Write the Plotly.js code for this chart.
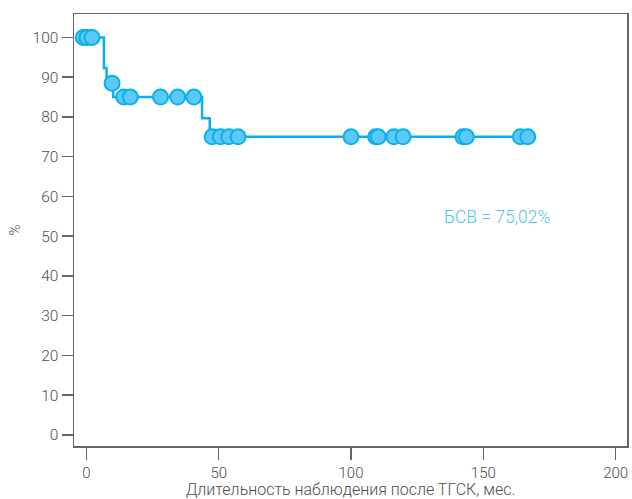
<!DOCTYPE html>
<html>
<head>
<meta charset="utf-8">
<script src="https://cdn.plot.ly/plotly-3.0.1.min.js"></script>
<style>html,body{margin:0;padding:0;background:#fff;}#chart{width:632px;height:499px;}</style>
</head>
<body>
<div id="chart"></div>
<script>
// Kaplan–Meier step curve (time, % survival)
const stepTimes = [0, 6.6, 7.6, 10.1, 43.7, 46.6, 167];
const stepSurv  = [100, 92.3, 88.5, 85, 79.7, 75, 75];
// Censored observations (time, % survival)
const censorTimes = [-1.2, 0.2, 2.1, 9.7, 14.1, 16.6, 28.0, 34.5, 40.6,
  47.5, 50.6, 53.8, 57.3, 100.0, 109.3, 110.3, 116.2, 119.7, 142.3, 143.6, 164.0, 166.8];
const censorSurv  = [100, 100, 100, 88.5, 85, 85, 85, 85, 85,
  75, 75, 75, 75, 75, 75, 75, 75, 75, 75, 75, 75, 75];
const xTicks = [0, 50, 100, 150, 200];
const yTicks = [0, 10, 20, 30, 40, 50, 60, 70, 80, 90, 100];
const annotationText = 'БСВ = 75,02%';

const lineColor = '#0AAFEC';
const fillColor = '#5BC9F5';
const axisColor = '#666666';
const textColor = '#4d4d4d';
const font = {family: 'Roboto, sans-serif', size: 14, color: textColor, weight: 300};

const traces = [
  {x: stepTimes, y: stepSurv, mode: 'lines', line: {shape: 'hv', color: lineColor, width: 2.5},
   hoverinfo: 'skip', showlegend: false},
  {x: censorTimes, y: censorSurv, mode: 'markers',
   marker: {size: 15, color: fillColor, line: {color: lineColor, width: 2}},
   showlegend: false}
];

const layout = {
  width: 632, height: 499,
  margin: {l: 74, r: 5, t: 14, b: 53},
  paper_bgcolor: '#fff', plot_bgcolor: '#fff',
  font: font,
  showlegend: false,
  xaxis: {
    range: [-4.7, 204.3], tickvals: xTicks, ticktext: xTicks.map(String),
    showgrid: false, zeroline: false, showline: true, linecolor: axisColor, linewidth: 1.5,
    mirror: true, ticks: 'outside', ticklen: 12, tickwidth: 1.5, tickcolor: axisColor,
    tickfont: {family: 'Roboto, sans-serif', size: 15, color: textColor, weight: 300},
    title: {text: 'Длительность наблюдения после ТГСК, мес.', standoff: 6,
      font: {family: 'Roboto, sans-serif', size: 16, color: textColor, weight: 300}}
  },
  yaxis: {
    range: [-2.8, 105.9], tickvals: yTicks, ticktext: yTicks.map(String),
    showgrid: false, zeroline: false, showline: true, linecolor: axisColor, linewidth: 1.5,
    mirror: true, ticks: 'outside', ticklen: 11, tickwidth: 1.5, tickcolor: axisColor,
    tickfont: {family: 'Roboto, sans-serif', size: 15.5, color: textColor, weight: 300},
    title: {text: '%', standoff: 8,
      font: {family: 'Roboto, sans-serif', size: 15, color: textColor, weight: 300}}
  },
  annotations: [{
    x: 155.3, y: 54.8, xref: 'x', yref: 'y', text: annotationText, showarrow: false,
    font: {family: 'Roboto, sans-serif', size: 17.5, color: '#4FC3F2', weight: 300}
  }]
};

Plotly.newPlot('chart', traces, layout, {displayModeBar: false, staticPlot: true});
</script>
</body>
</html>
